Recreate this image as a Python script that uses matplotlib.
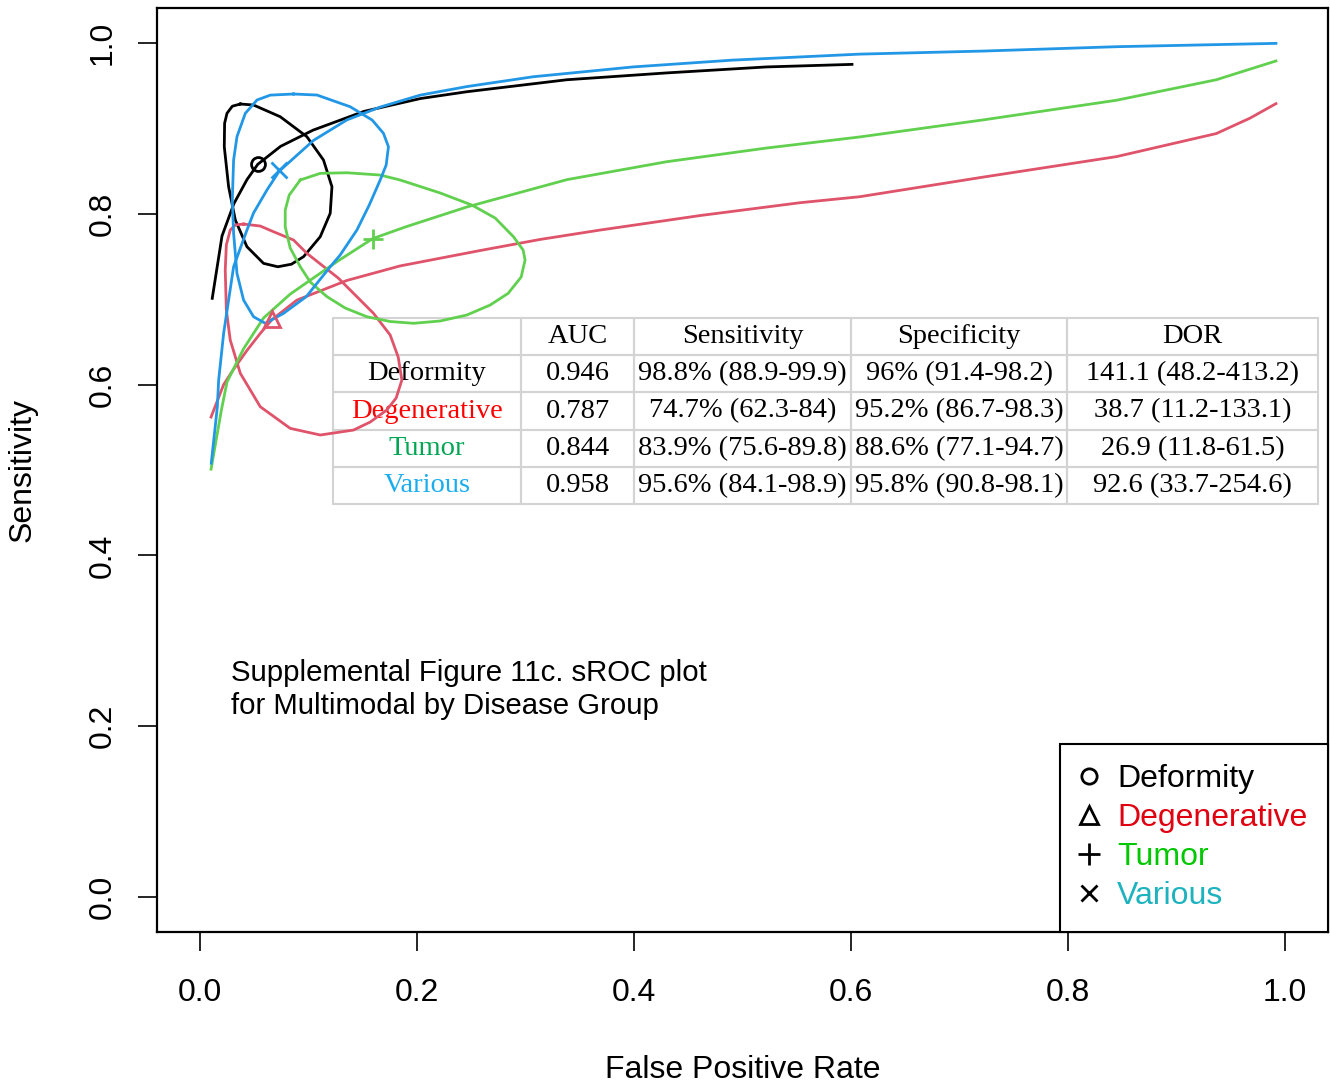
import numpy as np
import matplotlib
matplotlib.use('Agg')
import matplotlib.pyplot as plt
from matplotlib.lines import Line2D
from matplotlib.ticker import FormatStrFormatter

plt.rcParams['font.family'] = ['Liberation Sans', 'DejaVu Sans']

groups = ['Deformity', 'Degenerative', 'Tumor', 'Various']
line_colors = ['black', '#DF536B', '#61D04F', '#2297E6']
legend_text_colors = ['black', '#E0000F', '#00C800', '#1DB3BE']
table_name_colors = ['black', '#FF0000', '#00A651', '#1AADEE']
markers = ['o', '^', '+', 'x']

# sROC curves (false positive rate, sensitivity)
deform_fpr = [0.011, 0.020, 0.031, 0.043, 0.053, 0.074, 0.104, 0.151, 0.203, 0.246, 0.338, 0.430, 0.522, 0.601]
deform_sens = [0.701, 0.774, 0.812, 0.840, 0.858, 0.879, 0.898, 0.920, 0.935, 0.943, 0.957, 0.965, 0.972, 0.975]

degen_fpr = [0.0099, 0.0215, 0.0307, 0.043, 0.0553, 0.066, 0.0891, 0.1352, 0.1843, 0.258, 0.3134, 0.3687,
             0.461, 0.553, 0.608, 0.722, 0.845, 0.937, 0.968, 0.992]
degen_sens = [0.562, 0.600, 0.618, 0.640, 0.660, 0.676, 0.699, 0.722, 0.739, 0.757, 0.770, 0.781,
              0.798, 0.813, 0.820, 0.843, 0.867, 0.894, 0.912, 0.929]

tumor_fpr = [0.0099, 0.0194, 0.0246, 0.0399, 0.0583, 0.0829, 0.126, 0.159, 0.19, 0.2458, 0.338, 0.430,
             0.522, 0.608, 0.722, 0.845, 0.937, 0.992]
tumor_sens = [0.501, 0.570, 0.603, 0.642, 0.678, 0.706, 0.744, 0.771, 0.785, 0.808, 0.840, 0.861,
              0.877, 0.890, 0.910, 0.933, 0.957, 0.979]

various_fpr = [0.0101, 0.0157, 0.0169, 0.0215, 0.0307, 0.043, 0.0491, 0.0615, 0.0728, 0.1044, 0.1352,
               0.1659, 0.2028, 0.2458, 0.3069, 0.399, 0.491, 0.608, 0.722, 0.845, 0.992]
various_sens = [0.508, 0.574, 0.605, 0.660, 0.738, 0.781, 0.801, 0.828, 0.850, 0.886, 0.910,
                0.925, 0.939, 0.949, 0.9605, 0.972, 0.980, 0.987, 0.9906, 0.9957, 0.9996]

# confidence regions
deform_ell_fpr = [0.0369, 0.0491, 0.0737, 0.0983, 0.1136, 0.1214, 0.1198, 0.1106, 0.0952, 0.0840, 0.0715,
                  0.0583, 0.043, 0.0323, 0.0261, 0.0221, 0.0224, 0.0246, 0.0295]
deform_ell_sens = [0.9286, 0.9274, 0.9137, 0.8903, 0.863, 0.8317, 0.8006, 0.7732, 0.7498, 0.7410, 0.738,
                   0.742, 0.7615, 0.7927, 0.8317, 0.8786, 0.906, 0.9177, 0.926]

degen_ell_fpr = [0.0399, 0.0553, 0.0676, 0.086, 0.0983, 0.1272, 0.1597, 0.1751, 0.1825, 0.1859, 0.1806,
                 0.172, 0.1567, 0.1413, 0.1106, 0.0829, 0.0553, 0.0369, 0.0276, 0.024, 0.023, 0.024,
                 0.0276, 0.0323]
degen_ell_sens = [0.788, 0.7857, 0.779, 0.7693, 0.7537, 0.7248, 0.6835, 0.6581, 0.6323, 0.6054, 0.5843,
                  0.5703, 0.5562, 0.5468, 0.541, 0.5488, 0.5741, 0.6132, 0.6522, 0.6874, 0.7342, 0.7635,
                  0.781, 0.787]

tumor_ell_fpr = [0.0922, 0.1106, 0.1352, 0.1659, 0.1843, 0.2212, 0.2504, 0.2719, 0.2888, 0.2977, 0.2995,
                 0.2959, 0.2839, 0.2673, 0.2458, 0.2212, 0.1966, 0.1751, 0.1536, 0.1336, 0.1168, 0.1014,
                 0.0922, 0.0829, 0.0783, 0.0783, 0.082]
tumor_ell_sens = [0.8396, 0.8474, 0.8481, 0.8454, 0.8396, 0.8244, 0.8103, 0.7951, 0.7732, 0.7576, 0.7459,
                  0.726, 0.7069, 0.6932, 0.6815, 0.6745, 0.6718, 0.6739, 0.6795, 0.6897, 0.703, 0.7201,
                  0.738, 0.76, 0.7849, 0.8044, 0.822]

various_ell_fpr = [0.086, 0.1076, 0.1382, 0.1585, 0.1689, 0.1735, 0.1714, 0.1659, 0.1558, 0.1444, 0.129,
                   0.1198, 0.0977, 0.0768, 0.0599, 0.0491, 0.0399, 0.0338, 0.0307, 0.0295, 0.0307,
                   0.0338, 0.0415, 0.0523, 0.0645]
various_ell_sens = [0.9403, 0.9391, 0.9254, 0.9098, 0.8943, 0.8786, 0.8571, 0.8396, 0.8103, 0.781, 0.7518,
                    0.738, 0.703, 0.6835, 0.6718, 0.6795, 0.699, 0.7303, 0.7772, 0.816, 0.863,
                    0.8903, 0.9177, 0.9333, 0.939]

# summary points
point_fpr = [0.053, 0.066, 0.159, 0.0725]
point_sens = [0.858, 0.677, 0.771, 0.851]

# summary table
table_header = ['', 'AUC', 'Sensitivity', 'Specificity', 'DOR']
auc = ['0.946', '0.787', '0.844', '0.958']
sens_txt = ['98.8% (88.9-99.9)', '74.7% (62.3-84)', '83.9% (75.6-89.8)', '95.6% (84.1-98.9)']
spec_txt = ['96% (91.4-98.2)', '95.2% (86.7-98.3)', '88.6% (77.1-94.7)', '95.8% (90.8-98.1)']
dor_txt = ['141.1 (48.2-413.2)', '38.7 (11.2-133.1)', '26.9 (11.8-61.5)', '92.6 (33.7-254.6)']

curves = [(deform_fpr, deform_sens), (degen_fpr, degen_sens), (tumor_fpr, tumor_sens), (various_fpr, various_sens)]
ellipses = [(deform_ell_fpr, deform_ell_sens), (degen_ell_fpr, degen_ell_sens),
            (tumor_ell_fpr, tumor_ell_sens), (various_ell_fpr, various_ell_sens)]
msizes = [10, 12, 15, 11]

fig = plt.figure(figsize=(13.30, 10.83), dpi=100)
ax = fig.add_axes([0.118, 0.1394, 0.8805, 0.8532])
ax.set_xlim(-0.04, 1.04)
ax.set_ylim(-0.041, 1.041)

for i in range(4):
    cx, cy = curves[i]
    ax.plot(cx, cy, color=line_colors[i], lw=2.0, zorder=3, solid_joinstyle='round')
    ex, ey = ellipses[i]
    ax.plot(list(ex) + [ex[0]], list(ey) + [ey[0]], color=line_colors[i], lw=2.0, zorder=3,
            solid_joinstyle='round')
    ax.plot(point_fpr[i], point_sens[i], marker=markers[i], ms=msizes[i], mfc='none',
            mec=line_colors[i], mew=2, ls='none', zorder=4)

# table
cell_text = [[groups[i], auc[i], sens_txt[i], spec_txt[i], dor_txt[i]] for i in range(4)]
tbl = ax.table(cellText=cell_text, colLabels=table_header, cellLoc='center',
               colWidths=[0.1909, 0.1147, 0.2203, 0.2193, 0.2548],
               bbox=[0.1503, 0.4632, 0.8412, 0.2013], zorder=1)
tbl.auto_set_font_size(False)
for (r, c), cell in tbl.get_celld().items():
    cell.set_edgecolor('#d3d3d3')
    cell.set_linewidth(1.5)
    cell.set_facecolor('none')
    t = cell.get_text()
    t.set_fontfamily('Liberation Serif')
    t.set_fontsize(20.5)
    if r > 0 and c == 0:
        t.set_color(table_name_colors[r - 1])

ax.text(0.028, 0.243, 'Supplemental Figure 11c. sROC plot\nfor Multimodal by Disease Group',
        fontsize=21.2, ha='left', va='center', linespacing=1.22)

handles = [Line2D([], [], marker=markers[i], color='black', mfc='none', mew=2, ms=msizes[i] * 1.1, ls='none')
           for i in range(4)]
leg = ax.legend(handles, groups, loc='lower right', fontsize=23, labelcolor=legend_text_colors,
                frameon=True, fancybox=False, edgecolor='black', framealpha=1, borderaxespad=0,
                borderpad=0.65, labelspacing=0.28, handlelength=0.5, handletextpad=0.62)
leg.get_frame().set_linewidth(1.5)
leg.set_zorder(5)

ax.set_xticks([0.0, 0.2, 0.4, 0.6, 0.8, 1.0])
ax.set_yticks([0.0, 0.2, 0.4, 0.6, 0.8, 1.0])
ax.xaxis.set_major_formatter(FormatStrFormatter('%.1f'))
ax.yaxis.set_major_formatter(FormatStrFormatter('%.1f'))
ax.tick_params(axis='both', length=14, width=1.2, labelsize=23, direction='out')
ax.tick_params(axis='x', pad=19)
ax.tick_params(axis='y', pad=14)
for lbl in ax.get_yticklabels():
    lbl.set_rotation(90)
    lbl.set_va('center')
for s in ax.spines.values():
    s.set_linewidth(1.6)

ax.set_xlabel('False Positive Rate', fontsize=23)
ax.set_ylabel('Sensitivity', fontsize=23)
ax.xaxis.set_label_coords(0.5, -0.1326)
ax.yaxis.set_label_coords(-0.1016, 0.5)

fig.savefig('out.png', dpi=100)
